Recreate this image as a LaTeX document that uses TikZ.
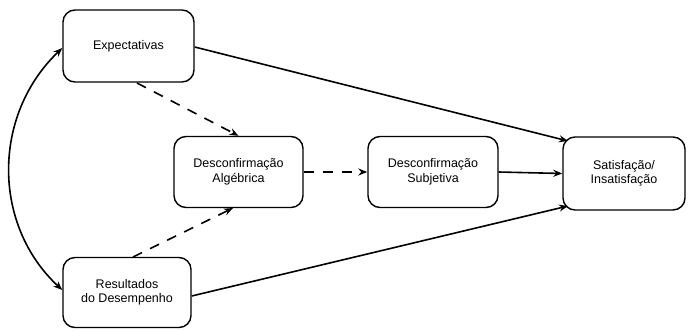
\documentclass[tikz,border=0pt]{standalone}
\usepackage{fontspec}
\setmainfont{Liberation Sans}
\usetikzlibrary{arrows.meta}
\begin{document}
\begin{tikzpicture}[x=1pt,y=-1pt,
  box/.style={draw, line width=1.4pt, rounded corners=12pt, align=center,
    font=\fontsize{12.5}{14.5}\selectfont, inner sep=0pt},
  conn/.style={line width=1.6pt, -{Stealth[length=9pt,width=7pt]}},
  dconn/.style={conn, dash pattern=on 10pt off 9pt}]
\useasboundingbox (0,0) rectangle (690,330);
\node[box, minimum width=131pt, minimum height=72pt] (e) at (128.5,46) {Expectativas};
\node[box, minimum width=128pt, minimum height=70pt] (r) at (127,292.5) {Resultados\\do Desempenho};
\node[box, minimum width=129pt, minimum height=71pt] (a) at (238.5,172) {Desconfirmação\\Algébrica};
\node[box, minimum width=130pt, minimum height=71pt] (s) at (433,172) {Desconfirmação\\Subjetiva};
\node[box, minimum width=122pt, minimum height=73pt] (f) at (624,173.5) {Satisfação/\\Insatisfação};
\coordinate (fa) at (568,141);
\coordinate (fb) at (568,206);
\draw[conn] (e.east |- 0,47) -- (fa);
\draw[conn] (r.east |- 0,296) -- (fb);
\draw[conn] (s.east) -- (f.west);
\draw[dconn] (137,83) -- (a.north);
\draw[dconn] (133,257) -- (233,208);
\draw[dconn] (a.east) -- (s.west);
\draw[line width=1.6pt, {Stealth[length=9pt,width=7pt]}-{Stealth[length=9pt,width=7pt]}]
  (e.west |- 0,48) .. controls (-8,115) and (-8,225) .. (r.west |- 0,290);
\end{tikzpicture}
\end{document}
